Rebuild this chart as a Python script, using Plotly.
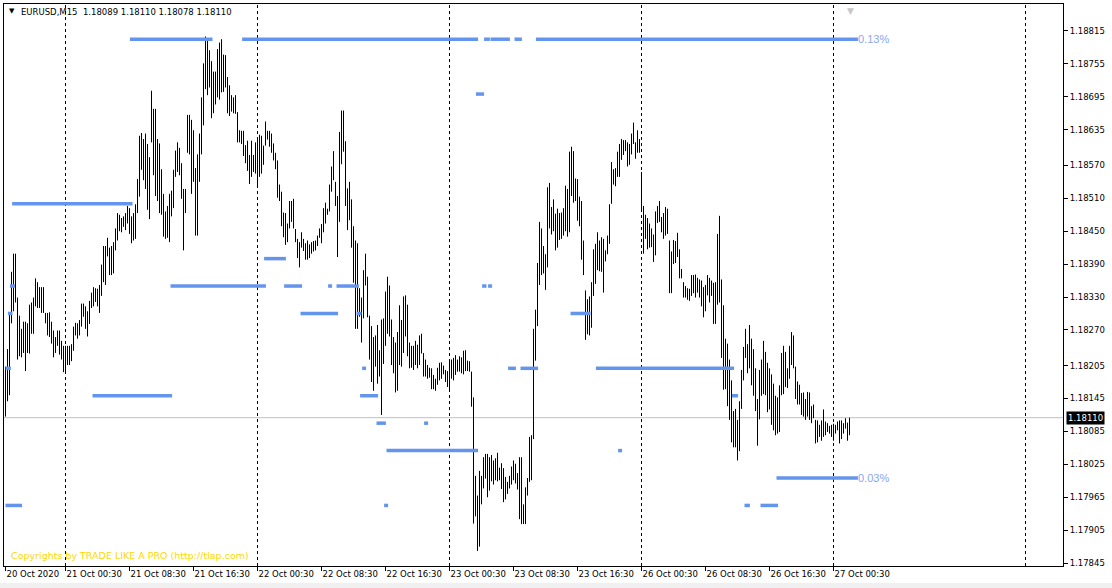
import plotly.graph_objects as go

# ---------------- data ----------------
header_symbol = "EURUSD,M15"
header_ohlc = ["1.18089", "1.18110", "1.18078", "1.18110"]
copyright_text = "Copyrights by TRADE LIKE A PRO (http://tlap.com)"

bar_high = [
 1.18203, 1.18235, 1.18301, 1.18376, 1.18409, 1.18409, 1.18329, 1.18296, 1.18272, 1.18285,
 1.18285, 1.18282, 1.18316, 1.18320, 1.18329, 1.18364, 1.18357, 1.18348, 1.18348, 1.18348,
 1.18301, 1.18301, 1.18302, 1.18285, 1.18269, 1.18257, 1.18269, 1.18269, 1.18250, 1.18241,
 1.18241, 1.18241, 1.18241, 1.18244, 1.18276, 1.18283, 1.18282, 1.18288, 1.18318, 1.18318,
 1.18313, 1.18304, 1.18323, 1.18338, 1.18348, 1.18346, 1.18345, 1.18352, 1.18389, 1.18423,
 1.18423, 1.18438, 1.18420, 1.18423, 1.18430, 1.18455, 1.18483, 1.18480, 1.18474, 1.18477,
 1.18483, 1.18496, 1.18492, 1.18477, 1.18483, 1.18499, 1.18545, 1.18624, 1.18629, 1.18618,
 1.18628, 1.18609, 1.18585, 1.18706, 1.18673, 1.18673, 1.18618, 1.18610, 1.18563, 1.18518,
 1.18486, 1.18496, 1.18518, 1.18524, 1.18562, 1.18597, 1.18612, 1.18602, 1.18574, 1.18527,
 1.18527, 1.18662, 1.18662, 1.18653, 1.18634, 1.18565, 1.18590, 1.18628, 1.18694, 1.18756,
 1.18805, 1.18800, 1.18780, 1.18760, 1.18741, 1.18741, 1.18782, 1.18794, 1.18800, 1.18772,
 1.18771, 1.18731, 1.18716, 1.18698, 1.18694, 1.18698, 1.18667, 1.18634, 1.18633, 1.18633,
 1.18607, 1.18615, 1.18589, 1.18615, 1.18589, 1.18612, 1.18621, 1.18626, 1.18624, 1.18606,
 1.18650, 1.18633, 1.18633, 1.18628, 1.18610, 1.18593, 1.18579, 1.18535, 1.18522, 1.18484,
 1.18483, 1.18464, 1.18505, 1.18505, 1.18509, 1.18454, 1.18436, 1.18430, 1.18448, 1.18436,
 1.18428, 1.18433, 1.18426, 1.18430, 1.18432, 1.18433, 1.18442, 1.18455, 1.18463, 1.18492,
 1.18502, 1.18491, 1.18535, 1.18568, 1.18596, 1.18540, 1.18514, 1.18631, 1.18670, 1.18670,
 1.18614, 1.18528, 1.18540, 1.18508, 1.18459, 1.18433, 1.18428, 1.18346, 1.18329, 1.18379,
 1.18409, 1.18367, 1.18296, 1.18277, 1.18257, 1.18260, 1.18279, 1.18233, 1.18289, 1.18291,
 1.18340, 1.18367, 1.18351, 1.18289, 1.18257, 1.18247, 1.18266, 1.18315, 1.18288, 1.18331,
 1.18333, 1.18316, 1.18247, 1.18241, 1.18241, 1.18250, 1.18243, 1.18260, 1.18263, 1.18228,
 1.18216, 1.18206, 1.18201, 1.18200, 1.18188, 1.18181, 1.18201, 1.18210, 1.18211, 1.18205,
 1.18197, 1.18195, 1.18213, 1.18216, 1.18219, 1.18224, 1.18216, 1.18222, 1.18220, 1.18232,
 1.18233, 1.18214, 1.18213, 1.18194, 1.18147, 1.18004, 1.17968, 1.18013, 1.18004, 1.18038,
 1.18044, 1.18044, 1.18038, 1.18042, 1.18032, 1.18036, 1.18046, 1.18019, 1.18027, 1.18018,
 1.18002, 1.17993, 1.18004, 1.18021, 1.18032, 1.18026, 1.18009, 1.18038, 1.18038, 1.17952,
 1.17983, 1.18000, 1.18075, 1.18078, 1.18272, 1.18307, 1.18392, 1.18467, 1.18455, 1.18423,
 1.18408, 1.18530, 1.18538, 1.18494, 1.18508, 1.18482, 1.18491, 1.18483, 1.18484, 1.18492,
 1.18533, 1.18527, 1.18595, 1.18604, 1.18596, 1.18546, 1.18545, 1.18513, 1.18505, 1.18433,
 1.18342, 1.18326, 1.18331, 1.18357, 1.18417, 1.18427, 1.18448, 1.18433, 1.18439, 1.18436,
 1.18415, 1.18442, 1.18499, 1.18576, 1.18563, 1.18565, 1.18595, 1.18609, 1.18618, 1.18616,
 1.18616, 1.18612, 1.18609, 1.18628, 1.18648, 1.18612, 1.18634, 1.18618, 1.18558, 1.18496,
 1.18480, 1.18474, 1.18464, 1.18455, 1.18444, 1.18486, 1.18496, 1.18505, 1.18476, 1.18483,
 1.18494, 1.18491, 1.18433, 1.18413, 1.18434, 1.18432, 1.18447, 1.18417, 1.18381, 1.18357,
 1.18350, 1.18346, 1.18345, 1.18370, 1.18370, 1.18371, 1.18365, 1.18362, 1.18360, 1.18348,
 1.18352, 1.18370, 1.18365, 1.18360, 1.18356, 1.18357, 1.18445, 1.18478, 1.18362, 1.18315,
 1.18254, 1.18245, 1.18216, 1.18178, 1.18122, 1.18126, 1.18106, 1.18140, 1.18197, 1.18239,
 1.18272, 1.18244, 1.18279, 1.18254, 1.18235, 1.18200, 1.18144, 1.18197, 1.18216, 1.18250,
 1.18230, 1.18210, 1.18200, 1.18189, 1.18172, 1.18150, 1.18147, 1.18169, 1.18228, 1.18241,
 1.18230, 1.18200, 1.18241, 1.18266, 1.18260, 1.18203, 1.18176, 1.18170, 1.18155, 1.18156,
 1.18144, 1.18157, 1.18156, 1.18131, 1.18134, 1.18106, 1.18105, 1.18097, 1.18105, 1.18125,
 1.18103, 1.18100, 1.18095, 1.18097, 1.18099, 1.18097, 1.18103, 1.18105, 1.18105, 1.18100,
 1.18109, 1.18101, 1.18110]

bar_low = [
 1.18112, 1.18140, 1.18151, 1.18282, 1.18304, 1.18320, 1.18216, 1.18222, 1.18220, 1.18228,
 1.18195, 1.18228, 1.18227, 1.18263, 1.18263, 1.18313, 1.18310, 1.18310, 1.18301, 1.18301,
 1.18282, 1.18260, 1.18257, 1.18245, 1.18220, 1.18228, 1.18241, 1.18225, 1.18216, 1.18193,
 1.18191, 1.18206, 1.18206, 1.18213, 1.18232, 1.18260, 1.18254, 1.18260, 1.18276, 1.18294,
 1.18272, 1.18258, 1.18281, 1.18310, 1.18313, 1.18321, 1.18313, 1.18301, 1.18332, 1.18357,
 1.18352, 1.18404, 1.18370, 1.18370, 1.18373, 1.18415, 1.18433, 1.18450, 1.18448, 1.18458,
 1.18452, 1.18464, 1.18445, 1.18428, 1.18433, 1.18436, 1.18483, 1.18513, 1.18562, 1.18543,
 1.18527, 1.18489, 1.18472, 1.18612, 1.18552, 1.18514, 1.18505, 1.18483, 1.18480, 1.18440,
 1.18436, 1.18438, 1.18430, 1.18477, 1.18492, 1.18549, 1.18558, 1.18552, 1.18509, 1.18415,
 1.18483, 1.18593, 1.18590, 1.18518, 1.18540, 1.18442, 1.18442, 1.18540, 1.18590, 1.18643,
 1.18709, 1.18698, 1.18712, 1.18656, 1.18665, 1.18681, 1.18694, 1.18690, 1.18703, 1.18704,
 1.18712, 1.18665, 1.18660, 1.18668, 1.18665, 1.18664, 1.18612, 1.18612, 1.18609, 1.18587,
 1.18574, 1.18560, 1.18536, 1.18549, 1.18558, 1.18555, 1.18530, 1.18549, 1.18555, 1.18571,
 1.18606, 1.18617, 1.18604, 1.18593, 1.18579, 1.18563, 1.18511, 1.18505, 1.18459, 1.18439,
 1.18425, 1.18430, 1.18455, 1.18467, 1.18455, 1.18430, 1.18401, 1.18384, 1.18420, 1.18414,
 1.18398, 1.18398, 1.18401, 1.18409, 1.18413, 1.18415, 1.18423, 1.18438, 1.18428, 1.18448,
 1.18464, 1.18480, 1.18486, 1.18522, 1.18543, 1.18496, 1.18403, 1.18467, 1.18572, 1.18595,
 1.18496, 1.18452, 1.18470, 1.18420, 1.18356, 1.18272, 1.18272, 1.18294, 1.18247, 1.18291,
 1.18351, 1.18293, 1.18216, 1.18175, 1.18159, 1.18203, 1.18172, 1.18185, 1.18115, 1.18208,
 1.18241, 1.18263, 1.18258, 1.18206, 1.18191, 1.18156, 1.18159, 1.18206, 1.18203, 1.18228,
 1.18258, 1.18222, 1.18200, 1.18201, 1.18197, 1.18206, 1.18200, 1.18206, 1.18227, 1.18185,
 1.18185, 1.18181, 1.18183, 1.18162, 1.18162, 1.18159, 1.18170, 1.18178, 1.18181, 1.18189,
 1.18175, 1.18166, 1.18159, 1.18181, 1.18178, 1.18188, 1.18194, 1.18194, 1.18191, 1.18189,
 1.18195, 1.18195, 1.18194, 1.18130, 1.17917, 1.17930, 1.17867, 1.17875, 1.17952, 1.17981,
 1.17999, 1.17965, 1.17977, 1.17994, 1.17988, 1.17996, 1.17994, 1.17996, 1.17980, 1.17956,
 1.17961, 1.17971, 1.17981, 1.17988, 1.17996, 1.17990, 1.17979, 1.17925, 1.17916, 1.17916,
 1.17916, 1.17968, 1.17993, 1.17996, 1.18071, 1.18214, 1.18277, 1.18352, 1.18370, 1.18373,
 1.18343, 1.18384, 1.18455, 1.18444, 1.18450, 1.18415, 1.18420, 1.18434, 1.18436, 1.18442,
 1.18450, 1.18440, 1.18448, 1.18514, 1.18502, 1.18505, 1.18469, 1.18459, 1.18398, 1.18370,
 1.18252, 1.18262, 1.18260, 1.18274, 1.18332, 1.18354, 1.18379, 1.18377, 1.18376, 1.18338,
 1.18395, 1.18408, 1.18427, 1.18500, 1.18535, 1.18532, 1.18549, 1.18549, 1.18580, 1.18589,
 1.18596, 1.18568, 1.18571, 1.18590, 1.18609, 1.18582, 1.18593, 1.18593, 1.18486, 1.18409,
 1.18436, 1.18417, 1.18420, 1.18421, 1.18394, 1.18406, 1.18465, 1.18467, 1.18448, 1.18436,
 1.18442, 1.18445, 1.18337, 1.18337, 1.18390, 1.18392, 1.18403, 1.18364, 1.18364, 1.18329,
 1.18329, 1.18325, 1.18323, 1.18332, 1.18337, 1.18329, 1.18338, 1.18329, 1.18313, 1.18293,
 1.18304, 1.18333, 1.18320, 1.18332, 1.18281, 1.18281, 1.18316, 1.18320, 1.18219, 1.18161,
 1.18162, 1.18131, 1.18106, 1.18065, 1.18056, 1.18056, 1.18032, 1.18049, 1.18126, 1.18178,
 1.18219, 1.18191, 1.18200, 1.18169, 1.18150, 1.18122, 1.18059, 1.18107, 1.18150, 1.18153,
 1.18151, 1.18120, 1.18125, 1.18097, 1.18087, 1.18078, 1.18081, 1.18084, 1.18151, 1.18153,
 1.18166, 1.18164, 1.18181, 1.18206, 1.18200, 1.18144, 1.18134, 1.18134, 1.18115, 1.18112,
 1.18106, 1.18112, 1.18106, 1.18100, 1.18109, 1.18063, 1.18065, 1.18075, 1.18068, 1.18075,
 1.18078, 1.18084, 1.18081, 1.18075, 1.18068, 1.18081, 1.18087, 1.18063, 1.18071, 1.18081,
 1.18090, 1.18068, 1.18078]

time_tick_idx = [0, 30, 62, 94, 126, 158, 190, 222, 254, 286, 318, 350, 382, 414]
time_tick_labels = ["20 Oct 2020", "21 Oct 00:30", "21 Oct 08:30", "21 Oct 16:30",
                    "22 Oct 00:30", "22 Oct 08:30", "22 Oct 16:30", "23 Oct 00:30",
                    "23 Oct 08:30", "23 Oct 16:30", "26 Oct 00:30", "26 Oct 08:30",
                    "26 Oct 16:30", "27 Oct 00:30"]
price_ticks = [1.18815, 1.18755, 1.18695, 1.18635, 1.18570, 1.18510, 1.18450, 1.18390,
               1.18330, 1.18270, 1.18205, 1.18145, 1.18085, 1.18025, 1.17965, 1.17905, 1.17845]
day_separator_idx = [30, 126, 222, 318, 414, 510]
current_price = 1.18110

level_price = [1.18800, 1.18800, 1.18800, 1.18800, 1.18800, 1.18800,
               1.18700, 1.18500, 1.18400,
               1.18350, 1.18350, 1.18350, 1.18350, 1.18350, 1.18350, 1.18350,
               1.18300, 1.18300, 1.18300, 1.18300,
               1.18200, 1.18200, 1.18200, 1.18200, 1.18200,
               1.18150, 1.18150, 1.18150,
               1.18100, 1.18100,
               1.18050, 1.18050,
               1.18000,
               1.17950, 1.17950, 1.17950, 1.17950]
level_start = [62.2, 118.3, 239.3, 242.5, 254.5, 265.2,
               235.2, 3.3, 129.3,
               2.2, 82.5, 139.3, 161.3, 165.5, 238.3, 241.3,
               1.2, 147.5, 175.5, 282.5,
               0.0, 178.3, 251.3, 257.5, 295.2,
               43.5, 177.3, 363.2,
               185.5, 209.3,
               190.5, 306.3,
               385.5,
               0.0, 189.3, 369.5, 377.5]
level_end = [103.5, 236.3, 242.2, 252.2, 258.2, 426.2,
             239.3, 63.5, 140.2,
             4.7, 130.2, 148.3, 163.3, 176.7, 240.5, 243.3,
             3.5, 166.3, 178.0, 292.5,
             2.7, 180.3, 255.2, 266.3, 364.3,
             83.3, 186.3, 366.3,
             190.2, 211.3,
             236.3, 308.3,
             426.2,
             8.3, 191.3, 372.2, 386.3]

pct_level = [1.18800, 1.18000]
pct_text = ["0.13%", "0.03%"]
pct_idx = [426.2, 426.2]

# ---------------- figure ----------------
W, H = 1112, 588
ML, MR, MT, MB = 4, 49, 4, 22
PW, PH = W - ML - MR, H - MT - MB

def px_x(p):
    return (p - ML) / PW

def px_y(p):
    return (H - MB - p) / PH

AXFONT = dict(family="DejaVu Sans", size=8.5, color="black")

fig = go.Figure()

# OHLC bars as vertical high-low lines
bx, by = [], []
for i, (h, l) in enumerate(zip(bar_high, bar_low)):
    bx += [i, i, None]
    by += [l, h, None]
fig.add_trace(go.Scatter(x=bx, y=by, mode="lines",
                         line=dict(color="black", width=1), hoverinfo="skip"))

# round-level segments
sx, sy = [], []
for lv, s, e in zip(level_price, level_start, level_end):
    sx += [s, e, None]
    sy += [lv, lv, None]
fig.add_trace(go.Scatter(x=sx, y=sy, mode="lines",
                         line=dict(color="#6495ED", width=3.5), hoverinfo="skip"))

shapes = []
for d in day_separator_idx:
    shapes.append(dict(type="line", xref="x", yref="paper", x0=d, x1=d, y0=0, y1=1,
                       line=dict(color="black", width=1, dash="3px,3px"), layer="below"))
shapes.append(dict(type="line", xref="paper", yref="y", x0=0, x1=1,
                   y0=current_price, y1=current_price,
                   line=dict(color="#C0C0C0", width=1), layer="below"))
# window bottom strip
shapes.append(dict(type="rect", xref="paper", yref="paper", x0=px_x(0), x1=px_x(W),
                   y0=px_y(H), y1=px_y(583), fillcolor="#F0F0F0", line=dict(width=0)))

annotations = []
annotations.append(dict(xref="paper", yref="paper", x=px_x(12), y=px_y(11),
                        text="▼", showarrow=False, xanchor="center", yanchor="middle",
                        font=dict(family="DejaVu Sans", size=7, color="black")))
annotations.append(dict(xref="paper", yref="paper", x=px_x(19), y=px_y(12),
                        text=header_symbol + "  " + " ".join(header_ohlc), showarrow=False,
                        xanchor="left", yanchor="middle", font=AXFONT))
annotations.append(dict(xref="paper", yref="paper", x=px_x(9), y=px_y(555),
                        text=copyright_text, showarrow=False,
                        xanchor="left", yanchor="middle",
                        font=dict(family="DejaVu Sans", size=9.5, color="#FFD700")))
for lv, t, xi in zip(pct_level, pct_text, pct_idx):
    annotations.append(dict(xref="x", yref="y", x=xi, y=lv, text=t, showarrow=False,
                            xanchor="left", yanchor="middle", xshift=-2,
                            font=dict(family="Liberation Sans", size=11, color="#86A8F0")))
annotations.append(dict(xref="paper", yref="y", x=1, y=current_price,
                        text=f"{current_price:.5f}", showarrow=False,
                        xanchor="left", yanchor="middle", xshift=3,
                        bgcolor="black", borderpad=1,
                        font=dict(family="DejaVu Sans", size=8.5, color="white")))
annotations.append(dict(xref="x", yref="paper", x=len(bar_high) - 0.5, y=1,
                        text="▼", showarrow=False, xanchor="center", yanchor="top",
                        font=dict(family="DejaVu Sans", size=9, color="#C8C8C8")))

fig.update_layout(
    width=W, height=H,
    margin=dict(l=ML, r=MR, t=MT, b=MB, pad=0),
    paper_bgcolor="white", plot_bgcolor="white",
    showlegend=False, hovermode=False,
    shapes=shapes, annotations=annotations,
    xaxis=dict(range=[-0.75, 528.75], tickvals=time_tick_idx, ticktext=time_tick_labels,
               ticks="outside", ticklen=4, tickcolor="black", tickwidth=1,
               ticklabelposition="outside right", tickangle=0, tickfont=AXFONT,
               showgrid=False, zeroline=False, showline=True, linecolor="black",
               linewidth=1, mirror=True, fixedrange=True, automargin=False),
    yaxis=dict(range=[1.178396, 1.188642], side="right", tickvals=price_ticks,
               ticktext=[f"{v:.5f}" for v in price_ticks],
               ticks="outside", ticklen=4, tickcolor="black", tickwidth=1,
               tickfont=AXFONT, showgrid=False, zeroline=False, showline=True,
               linecolor="black", linewidth=1, mirror=True, fixedrange=True,
               automargin=False),
)

fig.write_html("out.html", config={"displayModeBar": False},
               post_script="document.body.style.margin='0';document.body.style.padding='0';")
